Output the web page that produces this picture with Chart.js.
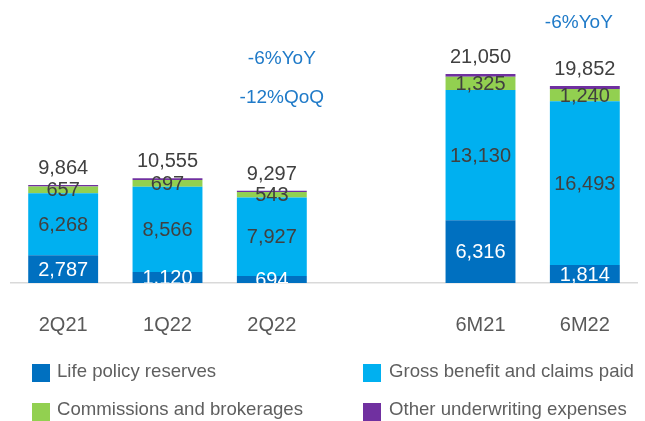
<!DOCTYPE html>
<html><head><meta charset="utf-8">
<script src="https://cdn.jsdelivr.net/npm/chart.js@4"></script>
<style>html,body{margin:0;padding:0;background:#fff;}</style>
</head><body>
<canvas id="c" width="645" height="421"></canvas>
<script>
// ---- data ----
const categories = ['2Q21', '1Q22', '2Q22', '', '6M21', '6M22'];
const lifePolicyReserves = [2787, 1120, 694, null, 6316, 1814];
const grossBenefitClaims = [6268, 8566, 7927, null, 13130, 16493];
const commissionsBrokerages = [657, 697, 543, null, 1325, 1240];
const otherUnderwriting = [152, 172, 133, null, 279, 305];
const totals = [9864, 10555, 9297, null, 21050, 19852];
const seriesNames = ['Life policy reserves', 'Gross benefit and claims paid', 'Commissions and brokerages', 'Other underwriting expenses'];
const growthNotes2Q22 = ['-6%YoY', '-12%QoQ'];
const growthNotes6M22 = ['-6%YoY'];

const FONT = "'Liberation Sans', Arial, sans-serif";
const colors = ['#0070C0', '#00B0F0', '#92D050', '#7030A0'];
const labelColors = ['#ffffff', '#404040', '#404040', null];
const fmt = v => v.toLocaleString('en-US');

const labelsPlugin = {
  id: 'labels',
  afterDatasetsDraw(chart) {
    const ctx = chart.ctx, area = chart.chartArea;
    const x = chart.scales.x, y = chart.scales.y;
    ctx.save();
    // segment labels (clipped to plot area)
    ctx.save();
    ctx.beginPath();
    ctx.rect(area.left, area.top - 200, area.right - area.left, area.bottom - area.top + 200);
    ctx.clip();
    ctx.font = '20px ' + FONT;
    ctx.textAlign = 'center';
    ctx.textBaseline = 'middle';
    chart.data.datasets.forEach((ds, di) => {
      if (!labelColors[di]) return;
      const meta = chart.getDatasetMeta(di);
      meta.data.forEach((bar, i) => {
        const v = ds.data[i];
        if (v == null) return;
        const cy = (bar.y + bar.base) / 2;
        ctx.fillStyle = labelColors[di];
        ctx.fillText(fmt(v), bar.x, cy + 1);
      });
    });
    ctx.restore();
    // totals
    ctx.font = '20px ' + FONT;
    ctx.fillStyle = '#404040';
    ctx.textAlign = 'center';
    ctx.textBaseline = 'alphabetic';
    totals.forEach((t, i) => {
      if (t == null) return;
      ctx.fillText(fmt(t), x.getPixelForValue(i), y.getPixelForValue(t) - 11);
    });
    // growth notes
    ctx.font = '19px ' + FONT;
    ctx.fillStyle = '#1F7AC8';
    const i2 = categories.indexOf('2Q22');
    const cx2 = x.getPixelForValue(i2) + 10;
    ctx.fillText(growthNotes2Q22[0], cx2, 64);
    ctx.fillText(growthNotes2Q22[1], cx2, 103);
    const i6 = categories.indexOf('6M22');
    ctx.fillText(growthNotes6M22[0], x.getPixelForValue(i6) - 6, 28);
    // legend
    const items = [
      {i: 0, sx: 32, sy: 364, tx: 57, ty: 377},
      {i: 1, sx: 363, sy: 364, tx: 389, ty: 377},
      {i: 2, sx: 32, sy: 403, tx: 57, ty: 415},
      {i: 3, sx: 363, sy: 403, tx: 389, ty: 415}
    ];
    ctx.font = '18.6px ' + FONT;
    ctx.textAlign = 'left';
    items.forEach(it => {
      ctx.fillStyle = colors[it.i];
      ctx.fillRect(it.sx, it.sy, 18, 18);
      ctx.fillStyle = '#5f5f5f';
      ctx.fillText(seriesNames[it.i], it.tx, it.ty);
    });
    ctx.restore();
  }
};

const seriesData = [lifePolicyReserves, grossBenefitClaims, commissionsBrokerages, otherUnderwriting];

new Chart(document.getElementById('c'), {
  type: 'bar',
  data: {
    labels: categories,
    datasets: seriesData.map((d, i) => ({
      label: seriesNames[i],
      data: d,
      backgroundColor: colors[i],
      borderWidth: 0,
      categoryPercentage: 1,
      barPercentage: 0.67
    }))
  },
  options: {
    responsive: false,
    devicePixelRatio: 1,
    animation: false,
    layout: { padding: { left: 11, right: 8, top: 20, bottom: 54 } },
    plugins: { legend: { display: false }, tooltip: { enabled: false } },
    scales: {
      x: {
        stacked: true,
        grid: { display: false, drawTicks: false },
        border: { display: true, color: '#d9d9d9', width: 1.5 },
        ticks: { padding: 30, color: '#595959', font: { family: FONT, size: 20 }, maxRotation: 0 }
      },
      y: {
        stacked: true,
        display: false,
        min: 0,
        max: 26500
      }
    }
  },
  plugins: [labelsPlugin]
});
</script>
</body></html>
